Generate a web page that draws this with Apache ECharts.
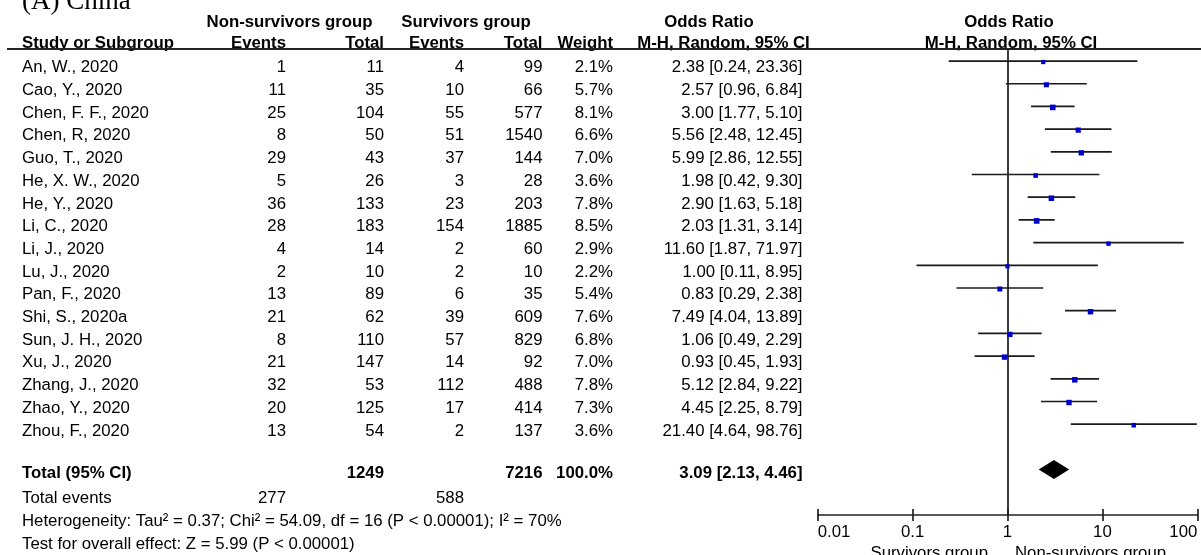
<!DOCTYPE html>
<html>
<head>
<meta charset="utf-8">
<title>Forest plot - (A) China</title>
<script src="https://cdn.jsdelivr.net/npm/echarts@6/dist/echarts.min.js"></script>
<style>
  html, body { margin: 0; padding: 0; background: #fff; }
  #chart { width: 1201px; height: 555px; }
</style>
</head>
<body>
<div id="chart"></div>
<script>
  // ---- data ----
  const studies = [
    "An, W., 2020", "Cao, Y., 2020", "Chen, F. F., 2020", "Chen, R, 2020",
    "Guo, T., 2020", "He, X. W., 2020", "He, Y., 2020", "Li, C., 2020",
    "Li, J., 2020", "Lu, J., 2020", "Pan, F., 2020", "Shi, S., 2020a",
    "Sun, J. H., 2020", "Xu, J., 2020", "Zhang, J., 2020", "Zhao, Y., 2020",
    "Zhou, F., 2020",
  ];
  const nsEvents = [1, 11, 25, 8, 29, 5, 36, 28, 4, 2, 13, 21, 8, 21, 32, 20, 13];
  const nsTotal = [11, 35, 104, 50, 43, 26, 133, 183, 14, 10, 89, 62, 110, 147, 53, 125, 54];
  const sEvents = [4, 10, 55, 51, 37, 3, 23, 154, 2, 2, 6, 39, 57, 14, 112, 17, 2];
  const sTotal = [99, 66, 577, 1540, 144, 28, 203, 1885, 60, 10, 35, 609, 829, 92, 488, 414, 137];
  const weight = [2.1, 5.7, 8.1, 6.6, 7.0, 3.6, 7.8, 8.5, 2.9, 2.2, 5.4, 7.6, 6.8, 7.0, 7.8, 7.3, 3.6];
  const oddsRatio = [2.38, 2.57, 3.00, 5.56, 5.99, 1.98, 2.90, 2.03, 11.60, 1.00, 0.83, 7.49, 1.06, 0.93, 5.12, 4.45, 21.40];
  const ciLow = [0.24, 0.96, 1.77, 2.48, 2.86, 0.42, 1.63, 1.31, 1.87, 0.11, 0.29, 4.04, 0.49, 0.45, 2.84, 2.25, 4.64];
  const ciHigh = [23.36, 6.84, 5.10, 12.45, 12.55, 9.30, 5.18, 3.14, 71.97, 8.95, 2.38, 13.89, 2.29, 1.93, 9.22, 8.79, 98.76];

  const totalRow = [1249, 7216, 100.0];           // ns total, s total, weight
  const totalOR = [3.09, 2.13, 4.46];             // OR, low, high
  const totalEvents = [277, 588];
  const heterogeneity = "Heterogeneity: Tau² = 0.37; Chi² = 54.09, df = 16 (P < 0.00001); I² = 70%";
  const overallEffect = "Test for overall effect: Z = 5.99 (P < 0.00001)";
  const tickLabels = ["0.01", "0.1", "1", "10", "100"];

  // ---- layout ----
  const FONT = '"Liberation Sans", Arial, sans-serif';
  const normal = "16.8px " + FONT;
  const bold = "bold 16.8px " + FONT;
  // right edges of the numeric columns
  const col = { nsEv: 286, nsTot: 384, sEv: 464, sTot: 542.5, w: 613, ci: 802.5 };
  const rowY = (i) => 67.7 + 22.7 * i;

  const graphics = [];
  function txt(str, x, y, align, font) {
    graphics.push({
      type: "text",
      silent: true,
      style: {
        text: str, x: x, y: y,
        textAlign: align, textVerticalAlign: "middle",
        font: font || normal, fill: "#000",
      },
    });
  }

  // headers
  txt("(A) China", 22, 2, "left", '27px "Liberation Serif", "Times New Roman", serif');
  txt("Non-survivors group", 289.5, 22, "center", bold);
  txt("Survivors group", 466, 22, "center", bold);
  txt("Odds Ratio", 709, 22, "center", bold);
  txt("Odds Ratio", 1009, 22, "center", bold);
  txt("Study or Subgroup", 22, 43.5, "left", bold);
  txt("Events", col.nsEv, 43.5, "right", bold);
  txt("Total", col.nsTot, 43.5, "right", bold);
  txt("Events", col.sEv, 43.5, "right", bold);
  txt("Total", col.sTot, 43.5, "right", bold);
  txt("Weight", col.w, 43.5, "right", bold);
  txt("M-H, Random, 95% CI", 723.5, 43.5, "center", bold);
  txt("M-H, Random, 95% CI", 1011, 43.5, "center", bold);

  // study rows
  studies.forEach((name, i) => {
    const y = rowY(i);
    txt(name, 22, y, "left");
    txt(String(nsEvents[i]), col.nsEv, y, "right");
    txt(String(nsTotal[i]), col.nsTot, y, "right");
    txt(String(sEvents[i]), col.sEv, y, "right");
    txt(String(sTotal[i]), col.sTot, y, "right");
    txt(weight[i].toFixed(1) + "%", col.w, y, "right");
    txt(oddsRatio[i].toFixed(2) + " [" + ciLow[i].toFixed(2) + ", " + ciHigh[i].toFixed(2) + "]", col.ci, y, "right");
  });

  // totals
  txt("Total (95% CI)", 22, 473, "left", bold);
  txt(String(totalRow[0]), col.nsTot, 473, "right", bold);
  txt(String(totalRow[1]), col.sTot, 473, "right", bold);
  txt(totalRow[2].toFixed(1) + "%", col.w, 473, "right", bold);
  txt(totalOR[0].toFixed(2) + " [" + totalOR[1].toFixed(2) + ", " + totalOR[2].toFixed(2) + "]", col.ci, 473, "right", bold);
  txt("Total events", 22, 498, "left");
  txt(String(totalEvents[0]), col.nsEv, 498, "right");
  txt(String(totalEvents[1]), col.sEv, 498, "right");
  txt(heterogeneity, 22, 521, "left");
  txt(overallEffect, 22, 544, "left");

  // axis side captions
  txt("Survivors group", 988, 553, "right");
  txt("Non-survivors group", 1015, 553, "left");

  // header underline
  graphics.push({
    type: "line", silent: true, z: 10,
    shape: { x1: 7, y1: 49, x2: 1201, y2: 49 },
    style: { stroke: "#222", lineWidth: 2 },
  });

  const chart = echarts.init(document.getElementById("chart"), null, { renderer: "canvas" });

  const xAxisBase = {
    type: "log",
    logBase: 10,
    min: 0.01,
    max: 100,
    position: "bottom",
    splitLine: { show: false },
    minorTick: { show: false },
  };

  const option = {
    animation: false,
    backgroundColor: "#fff",
    grid: { left: 817.7, right: 3.7, top: 49, bottom: 40, outerBoundsMode: "none" },
    xAxis: [
      Object.assign({}, xAxisBase, {
        axisLine: { onZero: false, lineStyle: { color: "#222", width: 1.7 } },
        axisTick: { length: 6, lineStyle: { color: "#222", width: 1.7 } },
        axisLabel: {
          color: "#000",
          fontSize: 16.8,
          fontFamily: FONT,
          margin: 9,
          alignMinLabel: "left",
          alignMaxLabel: "right",
          formatter: (v) => tickLabels[Math.round(Math.log10(v)) + 2],
        },
      }),
      // second axis only for the upward half of the ticks
      Object.assign({}, xAxisBase, {
        axisLine: { show: false, onZero: false },
        axisTick: { inside: true, length: 6, lineStyle: { color: "#222", width: 1.7 } },
        axisLabel: { show: false },
      }),
    ],
    yAxis: {
      type: "value",
      inverse: true,
      min: -0.53,
      max: 20,
      show: false,
    },
    graphic: graphics,
    series: [
      {
        type: "custom",
        name: "studies",
        xAxisIndex: 0,
        data: studies.map((s, i) => [i, ciLow[i], ciHigh[i], oddsRatio[i], weight[i]]),
        encode: { x: [1, 2, 3], y: 0 },
        renderItem: (params, api) => {
          const y = api.value(0);
          const a = api.coord([api.value(1), y]);
          const b = api.coord([api.value(2), y]);
          const c = api.coord([api.value(3), y]);
          const s = 3.8 + api.value(4) * 0.22;
          return {
            type: "group",
            children: [
              { type: "line", shape: { x1: a[0], y1: a[1], x2: b[0], y2: b[1] }, style: { stroke: "#1a1a1a", lineWidth: 1.7 } },
              { type: "rect", shape: { x: c[0] - s / 2, y: c[1] - s / 2 + 1, width: s, height: s }, style: { fill: "#0000cc" } },
            ],
          };
        },
        markLine: {
          silent: true,
          symbol: "none",
          label: { show: false },
          lineStyle: { color: "#1a1a1a", width: 1.7, type: "solid" },
          data: [{ xAxis: 1 }],
        },
        z: 5,
      },
      {
        type: "custom",
        name: "total",
        xAxisIndex: 0,
        data: [[18, totalOR[1], totalOR[2], totalOR[0]]],
        encode: { x: [1, 2, 3], y: 0 },
        renderItem: (params, api) => {
          const y = api.value(0);
          const a = api.coord([api.value(1), y]);
          const b = api.coord([api.value(2), y]);
          const c = api.coord([api.value(3), y]);
          const h = 9.5;
          return {
            type: "polygon",
            shape: { points: [[a[0], a[1]], [c[0], c[1] - h], [b[0], b[1]], [c[0], c[1] + h]] },
            style: { fill: "#000" },
          };
        },
        z: 5,
      },
    ],
  };

  chart.setOption(option);
</script>
</body>
</html>
